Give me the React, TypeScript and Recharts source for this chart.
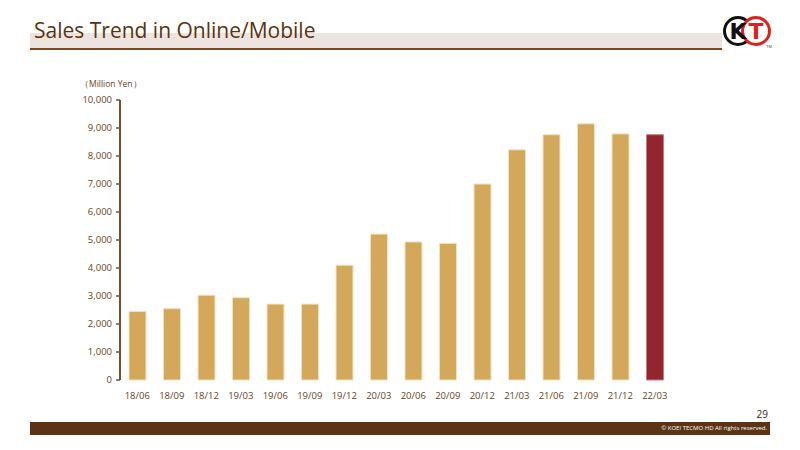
import { Bar, BarChart, Cell, XAxis, YAxis } from "recharts"

// 四半期ごとのオンライン・モバイル売上 (百万円)
const quarters = [
  "18/06", "18/09", "18/12", "19/03", "19/06", "19/09", "19/12", "20/03",
  "20/06", "20/09", "20/12", "21/03", "21/06", "21/09", "21/12", "22/03",
]
const sales = [
  2450, 2550, 3030, 2940, 2710, 2710, 4100, 5210,
  4930, 4880, 7000, 8220, 8760, 9150, 8790, 8760,
]
const yTicks = [0, 1000, 2000, 3000, 4000, 5000, 6000, 7000, 8000, 9000, 10000]
const edgeTicks = quarters.map((_, i) => i).concat(quarters.length)
const highlight = "22/03"

const BROWN = "#6b4423"
const AXIS = "#7a4f2c"
const GOLD = "#d4a85a"
const RED = "#93252e"
const FONT = "'Open Sans', 'Noto Sans', sans-serif"

const data = quarters.map((q, i) => ({ q, idx: i + 0.5, value: sales[i] }))

const fmt = (v: number) => v.toLocaleString("en-US")

function Logo() {
  return (
    <svg width={60} height={40} style={{ position: "absolute", left: 718, top: 10 }}>
      <circle cx={20} cy={21} r={13.5} fill="#fff" stroke="#111" strokeWidth={3} />
      <circle cx={38} cy={21} r={13.5} fill="#fff" stroke="#e0201c" strokeWidth={3} />
      <text x={20} y={29} textAnchor="middle" fontFamily="'DejaVu Sans', sans-serif" fontWeight={700} fontSize={22} fill="#111">K</text>
      <text x={38} y={29} textAnchor="middle" fontFamily="'DejaVu Sans', sans-serif" fontWeight={700} fontSize={22} fill="#e0201c">T</text>
      <text x={48} y={38} fontFamily="sans-serif" fontSize={4} fill="#444">TM</text>
    </svg>
  )
}

export default function App() {
  return (
    <div style={{ position: "absolute", left: 0, top: 0, width: 800, height: 450, background: "#fff", overflow: "hidden", fontFamily: FONT }}>
      {/* title band */}
      <div style={{ position: "absolute", left: 30, top: 33, width: 692, height: 15, background: "#ede4df" }} />
      <div style={{ position: "absolute", left: 30, top: 48, width: 692, height: 1.5, background: "#7a4a1e" }} />
      <div style={{ position: "absolute", left: 34, top: 16, fontSize: 21, color: "#5a3212", whiteSpace: "nowrap" }}>
        Sales Trend in Online/Mobile
      </div>
      <Logo />

      <div style={{ position: "absolute", left: 80, top: 78, fontSize: 8.5, color: BROWN }}>（Million Yen）</div>

      <div style={{ position: "absolute", left: 0, top: 0 }}>
        <BarChart width={800} height={450} data={data} margin={{ top: 100, right: 128, bottom: 40, left: 60 }}>
          <XAxis
            dataKey="q"
            xAxisId="cat"
            tickLine={false}
            axisLine={false}
            tick={{ fill: BROWN, fontSize: 9.5, fontFamily: FONT }}
            tickMargin={6}
            interval={0}
            height={30}
          />
          <XAxis
            xAxisId="edges"
            type="number"
            dataKey="idx"
            domain={[0, quarters.length]}
            ticks={edgeTicks}
            tick={false}
            tickSize={4}
            axisLine={{ stroke: AXIS, strokeWidth: 2 }}
            tickLine={{ stroke: AXIS, strokeWidth: 1.5 }}
            height={0}
          />
          <YAxis
            domain={[0, 10000]}
            ticks={yTicks}
            tickFormatter={fmt}
            interval={0}
            width={60}
            tickSize={4}
            tickMargin={4}
            axisLine={{ stroke: AXIS, strokeWidth: 2 }}
            tickLine={{ stroke: AXIS, strokeWidth: 1.5 }}
            tick={{ fill: BROWN, fontSize: 9.5, fontFamily: FONT }}
          />
          <Bar dataKey="value" xAxisId="cat" barSize={17} isAnimationActive={false} stroke="#f3e2c2" strokeWidth={1}>
            {data.map((d, i) => (
              <Cell key={i} fill={d.q === highlight ? RED : GOLD} stroke={d.q === highlight ? "#c77a80" : "#f3e2c2"} />
            ))}
          </Bar>
        </BarChart>
      </div>

      {/* footer */}
      <div style={{ position: "absolute", left: 750, top: 407, width: 18, textAlign: "right", fontSize: 10, color: "#3a2410" }}>29</div>
      <div style={{ position: "absolute", left: 30, top: 422, width: 740, height: 13, background: "#5c3314" }} />
      <div style={{ position: "absolute", left: 530, top: 424, width: 237, textAlign: "right", fontSize: 6, color: "#fff", lineHeight: "8px" }}>
        © KOEI TECMO HD All rights reserved.
      </div>
    </div>
  )
}
